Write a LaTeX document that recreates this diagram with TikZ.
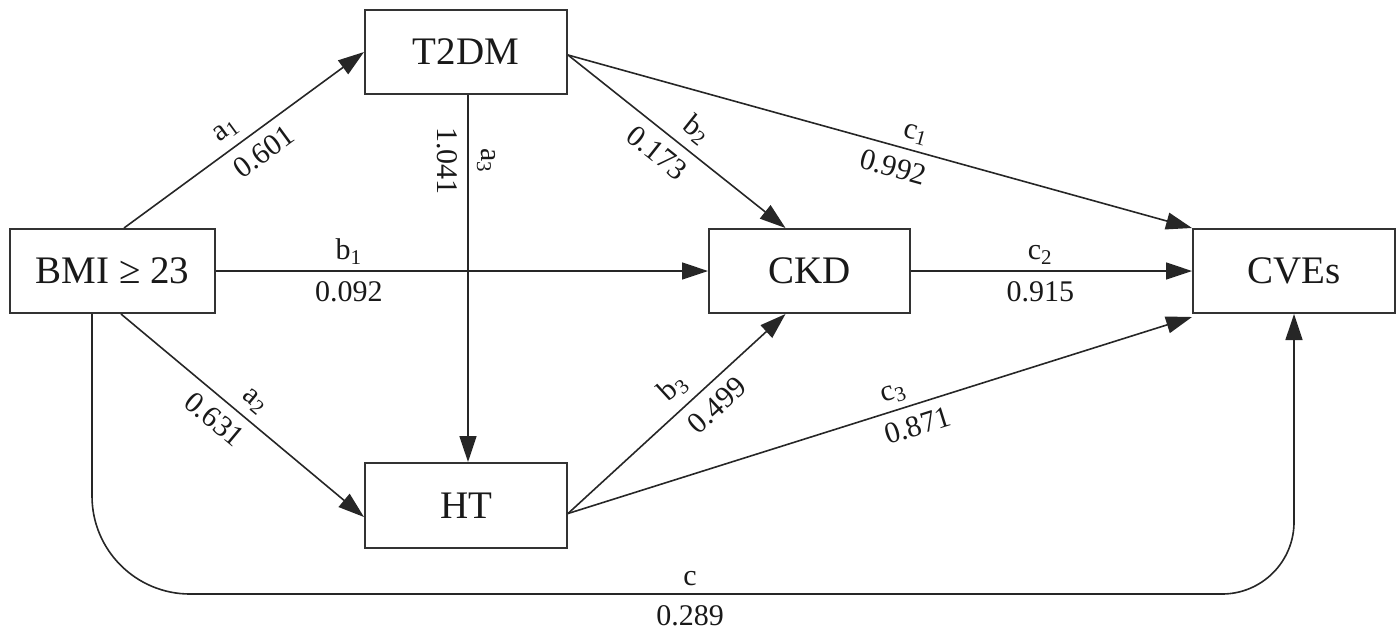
\documentclass[tikz,border=0pt]{standalone}
\usepackage{fontspec}
\setmainfont{Liberation Serif}
\usetikzlibrary{arrows.meta,calc}
\begin{document}
\begin{tikzpicture}[x=0.5pt,y=-0.5pt,
  box/.style={draw=black!80, line width=1pt, minimum width=101pt, minimum height=42pt, inner sep=0pt, font=\fontsize{19.5}{22}\selectfont, text=black!90},
  arr/.style={draw=black!85, line width=0.8pt, -{Triangle[length=13pt,width=8.5pt]}},
  lab/.style={font=\fontsize{15}{17}\selectfont, text=black!90, inner sep=2pt}]
\useasboundingbox (0,0) rectangle (1400,634);
\node[box] (t2dm) at (466,52) {T2DM};
\node[box, minimum width=102.5pt] (bmi) at (112.5,271) {BMI ≥ 23};
\node[box, minimum width=100.5pt] (ckd) at (809.5,271) {CKD};
\node[box] (cves) at (1294,271) {CVEs};
\node[box, minimum height=42.5pt] (ht) at (466,505.5) {HT};

\coordinate (s1) at ($(bmi.north west)+(115,0)$);
\coordinate (s2) at ($(bmi.south west)+(112,0)$);
\coordinate (s3) at ($(bmi.south west)+(83,0)$);
\coordinate (e2) at ($(ht.west)+(0,11.5)$);
\coordinate (t2s) at ($(t2dm.south)+(2,0)$);
\coordinate (hts) at ($(ht.north)+(2,0)$);
\coordinate (te) at ($(t2dm.east)+(0,3)$);
\coordinate (he) at ($(ht.east)+(0,8)$);
\coordinate (ckn) at ($(ckd.north)+(-24,0)$);
\coordinate (cks) at ($(ckd.south)+(-24,0)$);
\coordinate (cvsw) at ($(cves.south west)+(0,3)$);

\draw[arr] (s1) -- (t2dm.west)
  node[lab, sloped, pos=0.47, above=2pt] {a\textsubscript{1}}
  node[lab, sloped, pos=0.53, below=3pt] {0.601};
\draw[arr] (bmi.east) -- (ckd.west)
  node[lab, pos=0.27, above=1pt] {b\textsubscript{1}}
  node[lab, pos=0.27, below=3pt] {0.092};
\draw[arr] (s2) -- (e2)
  node[lab, sloped, pos=0.5, above=2pt] {a\textsubscript{2}}
  node[lab, sloped, pos=0.44, below=3pt] {0.631};
\draw[arr] (t2s) -- (hts)
  node[lab, sloped, pos=0.18, above=2pt] {a\textsubscript{3}}
  node[lab, sloped, pos=0.18, below=3pt] {1.041};
\draw[arr] (te) -- (ckn)
  node[lab, sloped, pos=0.53, above=2pt] {b\textsubscript{2}}
  node[lab, sloped, pos=0.47, below=3pt] {0.173};
\draw[arr] (te) -- (cves.north west)
  node[lab, sloped, pos=0.55, above=1pt] {c\textsubscript{1}}
  node[lab, sloped, pos=0.53, below=3pt] {0.992};
\draw[arr] (ckd.east) -- (cves.west)
  node[lab, pos=0.46, above=1pt] {c\textsubscript{2}}
  node[lab, pos=0.46, below=3pt] {0.915};
\draw[arr] (he) -- (cks)
  node[lab, sloped, pos=0.55, above=2pt] {b\textsubscript{3}}
  node[lab, sloped, pos=0.62, below=3pt] {0.499};
\draw[arr] (he) -- (cvsw)
  node[lab, sloped, pos=0.53, above=1pt] {c\textsubscript{3}}
  node[lab, sloped, pos=0.55, below=3pt] {0.871};
\draw[arr] (s3) [rounded corners=49pt] |- (700,594) [rounded corners=36pt] -| (cves.south);
\node[lab, anchor=south] (lc) at (690,590) {c};
\node[lab, anchor=north] (lv) at (690,601) {0.289};
\end{tikzpicture}
\end{document}
